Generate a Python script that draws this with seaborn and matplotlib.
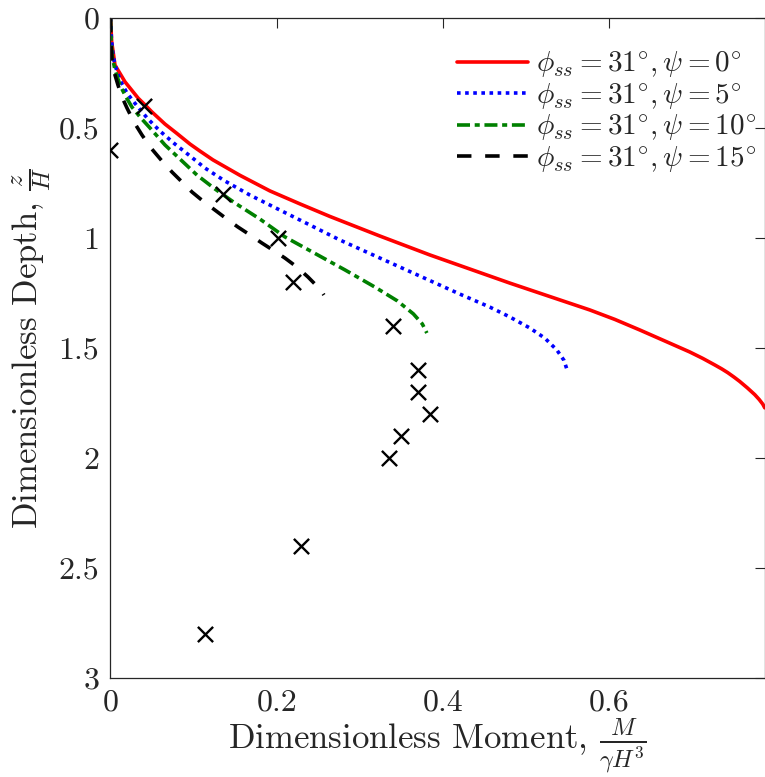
import pandas as pd
import matplotlib
matplotlib.use("Agg")
import matplotlib.pyplot as plt
import seaborn as sns

# Moment profiles: dimensionless moment M/(gamma H^3) against dimensionless depth z/H
m_psi0 = [0.0, 0.0014, 0.0054, 0.0174, 0.0334, 0.0415, 0.0495, 0.0655, 0.0796, 0.0956,
          0.1076, 0.1232, 0.1556, 0.1917, 0.2278, 0.2638, 0.3239, 0.3840, 0.4321, 0.4802,
          0.5282, 0.5763, 0.6064, 0.6364, 0.6665, 0.6965, 0.7120, 0.7266, 0.7350, 0.7422,
          0.7500, 0.7566, 0.7660, 0.7747, 0.7800, 0.7843, 0.7867]
z_psi0 = [0.0, 0.108, 0.214, 0.290, 0.365, 0.395, 0.426, 0.482, 0.524, 0.573,
          0.605, 0.645, 0.715, 0.786, 0.845, 0.902, 0.991, 1.077, 1.141, 1.205,
          1.266, 1.327, 1.370, 1.418, 1.468, 1.518, 1.547, 1.577, 1.595, 1.612,
          1.633, 1.652, 1.682, 1.712, 1.734, 1.755, 1.772]

m_psi5 = [0.0, 0.0012, 0.0030, 0.0054, 0.0114, 0.0198, 0.0319, 0.0451, 0.0595, 0.0775,
          0.0956, 0.1136, 0.1376, 0.1677, 0.2037, 0.2398, 0.2758, 0.3239, 0.3720, 0.4201,
          0.4561, 0.4802, 0.5042, 0.5222, 0.5367, 0.5451, 0.5499]
z_psi5 = [0.0, 0.100, 0.168, 0.214, 0.282, 0.341, 0.400, 0.459, 0.514, 0.573,
          0.627, 0.682, 0.741, 0.805, 0.873, 0.941, 1.009, 1.091, 1.173, 1.255,
          1.314, 1.359, 1.409, 1.455, 1.509, 1.555, 1.609]

m_psi10 = [0.0, 0.0004, 0.0018, 0.0054, 0.0114, 0.0186, 0.0258, 0.0355, 0.0487, 0.0655,
           0.0835, 0.1040, 0.1256, 0.1496, 0.1797, 0.2097, 0.2458, 0.2819, 0.3179, 0.3450,
           0.3642, 0.3750, 0.3804]
z_psi10 = [0.0, 0.077, 0.168, 0.236, 0.305, 0.359, 0.405, 0.450, 0.505, 0.577,
           0.641, 0.714, 0.777, 0.841, 0.914, 0.995, 1.070, 1.145, 1.223, 1.286,
           1.345, 1.391, 1.432]

m_psi15 = [0.0, 0.0004, 0.0018, 0.0054, 0.0090, 0.0138, 0.0198, 0.0282, 0.0379, 0.0487,
           0.0619, 0.0739, 0.0859, 0.0980, 0.1112, 0.1256, 0.1400, 0.1532, 0.1677, 0.1821,
           0.1953, 0.2097, 0.2242, 0.2374, 0.2494, 0.2542, 0.2566]
z_psi15 = [0.0, 0.100, 0.191, 0.259, 0.305, 0.359, 0.409, 0.473, 0.532, 0.591,
           0.650, 0.700, 0.745, 0.791, 0.832, 0.873, 0.914, 0.950, 0.986, 1.023,
           1.055, 1.091, 1.132, 1.177, 1.223, 1.245, 1.259]

# Measured moments
m_meas = [0.0, 0.04, 0.135, 0.201, 0.219, 0.34, 0.37, 0.37, 0.384, 0.349, 0.335, 0.229, 0.114]
z_meas = [0.6, 0.4, 0.8, 1.0, 1.2, 1.4, 1.6, 1.7, 1.8, 1.9, 2.0, 2.4, 2.8]

x_ticks = [0, 0.2, 0.4, 0.6]
x_tick_labels = ["0", "0.2", "0.4", "0.6"]
y_ticks = [0, 0.5, 1, 1.5, 2, 2.5, 3]
y_tick_labels = ["0", "0.5", "1", "1.5", "2", "2.5", "3"]

legend_labels = [r"$\phi_{ss} = 31^{\circ}, \psi = 0^{\circ}$",
                 r"$\phi_{ss} = 31^{\circ}, \psi = 5^{\circ}$",
                 r"$\phi_{ss} = 31^{\circ}, \psi = 10^{\circ}$",
                 r"$\phi_{ss} = 31^{\circ}, \psi = 15^{\circ}$"]

sns.set_style("white")
plt.rcParams["font.family"] = ["cmr10", "DejaVu Serif"]
plt.rcParams["mathtext.fontset"] = "cm"
plt.rcParams["axes.formatter.use_mathtext"] = True

W, H = 765, 777
fig = plt.figure(figsize=(W / 100, H / 100), dpi=100)
ax = fig.add_axes([110.5 / W, 1 - 678 / H, (W - 110.5) / W, (678 - 18) / H])

series = [
    (m_psi0, z_psi0, "#ff0000", None),
    (m_psi5, z_psi5, "#0000ff", (0, (1.0, 1.25))),
    (m_psi10, z_psi10, "#008000", (0, (3.6, 1.3, 1.4, 1.3))),
    (m_psi15, z_psi15, "#000000", (0, (4.0, 3.8))),
]
for (m, z, col, dashes), lab in zip(series, legend_labels):
    df = pd.DataFrame({"m": m, "z": z})
    sns.lineplot(data=df, x="m", y="z", sort=False, estimator=None, ax=ax,
                 color=col, linewidth=2.6, label=lab)
    ln = ax.get_lines()[-1]
    if dashes is not None:
        ln.set_linestyle(dashes)
        ln.set_dash_capstyle("butt")

sns.scatterplot(x=m_meas, y=z_meas, marker="x", s=120, color="black",
                linewidth=1.7, ax=ax, legend=False, zorder=5)

ax.set_xlim(0, 0.787)
ax.set_ylim(3, 0)
ax.set_xticks(x_ticks)
ax.set_xticklabels(x_tick_labels)
ax.set_yticks(y_ticks)
ax.set_yticklabels(y_tick_labels)
ax.tick_params(direction="in", length=7, width=0.8, color="#262626",
               labelsize=23, top=True, right=True, labelcolor="#262626", pad=8)
for sp in ax.spines.values():
    sp.set_color("#262626")
    sp.set_linewidth(0.9)

ax.set_xlabel(r"Dimensionless Moment, $\frac{M}{\gamma H^3}$", fontsize=25,
              color="#262626", labelpad=0)
ax.set_ylabel(r"Dimensionless Depth, $\frac{z}{H}$", fontsize=25,
              color="#262626", labelpad=4)

leg = ax.legend(loc="upper left", bbox_to_anchor=(457 / W, 1 - 50 / H),
                bbox_transform=fig.transFigure, frameon=False, fontsize=21,
                handlelength=2.45, handletextpad=0.25, labelspacing=0.04,
                borderpad=0, borderaxespad=0)

fig.savefig("out.png", dpi=100)
